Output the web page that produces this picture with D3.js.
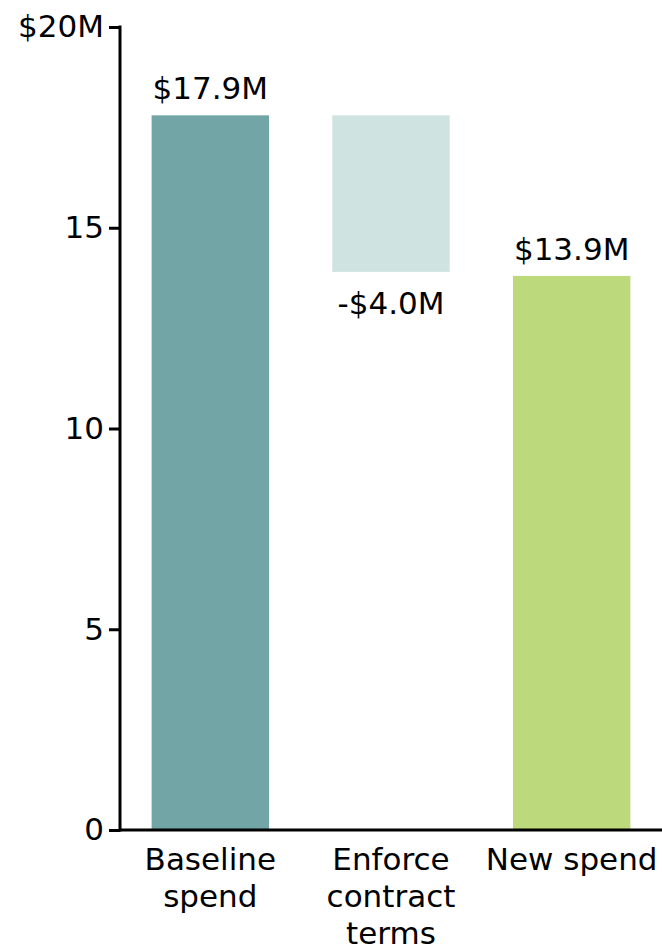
<!DOCTYPE html>
<html>
<head>
<meta charset="utf-8">
<script src="https://cdn.jsdelivr.net/npm/d3@7"></script>
<style>
  body { margin: 0; background: #fff; }
  text { font-family: "DejaVu Sans", Verdana, sans-serif; fill: #000; }
</style>
</head>
<body>
<div id="chart"></div>
<script>
// waterfall: baseline -> savings -> new spend
var categories = ["Baseline spend", "Enforce contract terms", "New spend"];
var barTop = [17.8, 17.8, 13.8];
var barBottom = [0, 13.9, 0];
var valueLabels = ["$17.9M", "-$4.0M", "$13.9M"];
var barColors = ["#72a6a6", "#cfe4e0", "#bcd97c"];
var yTicks = [0, 5, 10, 15, 20];

var width = 662, height = 947;
var margin = {top: 27, left: 120, right: 0, bottom: 117};
var fontSize = "31px";

var svg = d3.select("#chart")
  .append("svg")
  .attr("width", width)
  .attr("height", height);

var x = d3.scaleBand()
  .domain(categories)
  .range([margin.left, width - margin.right])
  .paddingInner(0.35)
  .paddingOuter(0.175);

var y = d3.scaleLinear()
  .domain([0, 20])
  .range([height - margin.bottom, margin.top]);

// bars
svg.selectAll(".bar")
  .data(categories)
  .enter().append("rect")
  .attr("class", "bar")
  .attr("x", function(d) { return x(d); })
  .attr("width", x.bandwidth())
  .attr("y", function(d, i) { return y(barTop[i]); })
  .attr("height", function(d, i) { return y(barBottom[i]) - y(barTop[i]); })
  .style("fill", function(d, i) { return barColors[i]; });

// value labels, negative one goes under the bar
svg.selectAll(".val")
  .data(categories)
  .enter().append("text")
  .attr("class", "val")
  .attr("x", function(d) { return x(d) + x.bandwidth() / 2; })
  .attr("y", function(d, i) {
    if (valueLabels[i][0] == "-") return y(barBottom[i]) + 42;
    return y(barTop[i]) - 16;
  })
  .attr("text-anchor", "middle")
  .style("font-size", fontSize)
  .text(function(d, i) { return valueLabels[i]; });

// y axis
var yAxis = d3.axisLeft(y)
  .tickValues(yTicks)
  .tickSize(11)
  .tickPadding(5)
  .tickFormat(function(d) { return d == 20 ? "$20M" : d; });

var gy = svg.append("g")
  .attr("transform", "translate(" + margin.left + ",0)")
  .call(yAxis);
gy.select(".domain").remove();
gy.append("line")
  .attr("x1", 0).attr("x2", 0)
  .attr("y1", y(20) - 1.5).attr("y2", y(0) + 1.5)
  .attr("stroke", "#000").attr("stroke-width", 3);
gy.selectAll(".tick line").attr("stroke-width", 3);
gy.selectAll(".tick text")
  .style("font-size", fontSize)
  .style("font-family", "DejaVu Sans, Verdana, sans-serif")
  .attr("fill", "#000");

// x axis line
svg.append("line")
  .attr("x1", margin.left).attr("x2", width)
  .attr("y1", y(0)).attr("y2", y(0))
  .attr("stroke", "#000").attr("stroke-width", 3);

// category labels, wrapped
var wraps = {
  "Baseline spend": ["Baseline", "spend"],
  "Enforce contract terms": ["Enforce", "contract", "terms"],
  "New spend": ["New spend"]
};
svg.selectAll(".cat")
  .data(categories)
  .enter().append("text")
  .attr("class", "cat")
  .attr("text-anchor", "middle")
  .style("font-size", fontSize)
  .each(function(d) {
    var t = d3.select(this);
    wraps[d].forEach(function(line, j) {
      t.append("tspan")
        .attr("x", x(d) + x.bandwidth() / 2)
        .attr("y", y(0) + 40 + j * 37)
        .text(line);
    });
  });
</script>
</body>
</html>
